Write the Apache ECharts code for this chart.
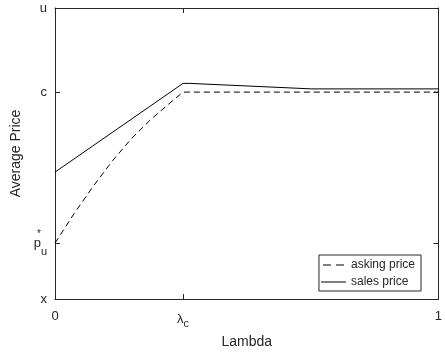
<!DOCTYPE html>
<html><head><meta charset="utf-8">
<script src="https://cdn.jsdelivr.net/npm/echarts@6/dist/echarts.min.js"></script>
<style>html,body{margin:0;padding:0;background:#fff}#c{width:445px;height:360px}</style>
</head><body><div id="c"></div>
<script>
// Tick positions/labels
var xTickValues = [0, 0.334, 1];
var xTickLabels = ['0', '{l|λ}{c|c}', '1'];
var yTickValues = [0, 0.192, 0.711, 1];
var yTickLabels = ['x', '{p|p}{s|*}{u|u}', 'c', 'u'];
// Series (lambda, value)
var askLambda = [0, 0.05, 0.1, 0.15, 0.2, 0.25, 0.3, 0.334, 1];
var askPrice  = [0.192, 0.294, 0.388, 0.475, 0.552, 0.617, 0.674, 0.711, 0.711];
var saleLambda = [0, 0.334, 0.35, 0.67, 1];
var salePrice  = [0.436, 0.741, 0.741, 0.722, 0.722];

function zip(a, b) { return a.map(function (v, i) { return [v, b[i]]; }); }
var font = 'Liberation Sans, Arial, Helvetica, sans-serif';
var dark = '#262626';

var chart = echarts.init(document.getElementById('c'), null, {renderer: 'canvas'});
function tickAxis(pos, vals) {
  return {
    type: 'value', min: 0, max: 1, position: pos,
    splitLine: {show: false},
    axisLabel: {show: false},
    axisLine: {show: true, onZero: false, lineStyle: {color: dark, width: 1}},
    axisTick: {show: true, inside: true, length: 5, customValues: vals, lineStyle: {color: dark}}
  };
}
chart.setOption({
  animation: false,
  backgroundColor: '#fff',
  grid: {left: 55, right: 4, top: 8, bottom: 61, containLabel: false},
  xAxis: [
    {
      type: 'value', min: 0, max: 1, position: 'bottom',
      splitLine: {show: false},
      axisLine: {show: false, onZero: false},
      axisTick: {show: false},
      name: 'Lambda', nameLocation: 'middle', nameGap: 36,
      nameTextStyle: {fontFamily: font, fontSize: 14, color: dark},
      axisLabel: {
        show: true, customValues: xTickValues, margin: 11,
        fontFamily: font, fontSize: 13, color: dark,
        formatter: function (v) {
          var i = xTickValues.indexOf(v);
          return i >= 0 ? xTickLabels[i] : '';
        },
        rich: {
          l: {fontFamily: font, fontSize: 13, color: dark},
          c: {fontFamily: font, fontSize: 11, color: dark, padding: [8, 0, 0, 0]}
        }
      }
    },
    tickAxis('top', xTickValues),
    tickAxis('bottom', xTickValues)
  ],
  yAxis: [
    {
      type: 'value', min: 0, max: 1, position: 'left',
      splitLine: {show: false},
      axisLine: {show: false, onZero: false},
      axisTick: {show: false},
      name: 'Average Price', nameLocation: 'middle', nameGap: 24,
      nameTextStyle: {fontFamily: font, fontSize: 14, color: dark},
      axisLabel: {
        show: true, customValues: yTickValues, margin: 8,
        fontFamily: font, fontSize: 13, color: dark,
        formatter: function (v) {
          var i = yTickValues.indexOf(v);
          return i >= 0 ? yTickLabels[i] : '';
        },
        rich: {
          p: {fontFamily: font, fontSize: 13, color: dark, lineHeight: 28, verticalAlign: 'middle'},
          s: {fontFamily: font, fontSize: 10, color: dark, lineHeight: 28, verticalAlign: 'top', width: 0},
          u: {fontFamily: font, fontSize: 11, color: dark, lineHeight: 28, verticalAlign: 'bottom'}
        }
      }
    },
    tickAxis('right', yTickValues),
    tickAxis('left', yTickValues)
  ],
  legend: {
    orient: 'vertical', right: 24, bottom: 69,
    backgroundColor: '#fff', borderColor: dark, borderWidth: 1,
    padding: [4, 6, 3, 2], itemGap: 5, itemWidth: 25, itemHeight: 1,
    textStyle: {fontFamily: font, fontSize: 12, color: dark},
    data: [
      {name: 'asking price', icon: 'path://M0,0h8v1h-8z M13,0h8v1h-8z'},
      {name: 'sales price', icon: 'path://M0,0h25v1h-25z'}
    ]
  },
  series: [
    {name: 'asking price', type: 'line', data: zip(askLambda, askPrice), showSymbol: false, symbol: 'none',
      lineStyle: {color: '#000', width: 1, type: [6, 4]}, itemStyle: {color: '#000'}},
    {name: 'sales price', type: 'line', data: zip(saleLambda, salePrice), showSymbol: false, symbol: 'none',
      lineStyle: {color: '#000', width: 1, type: 'solid'}, itemStyle: {color: '#000'}}
  ]
});
</script></body></html>
